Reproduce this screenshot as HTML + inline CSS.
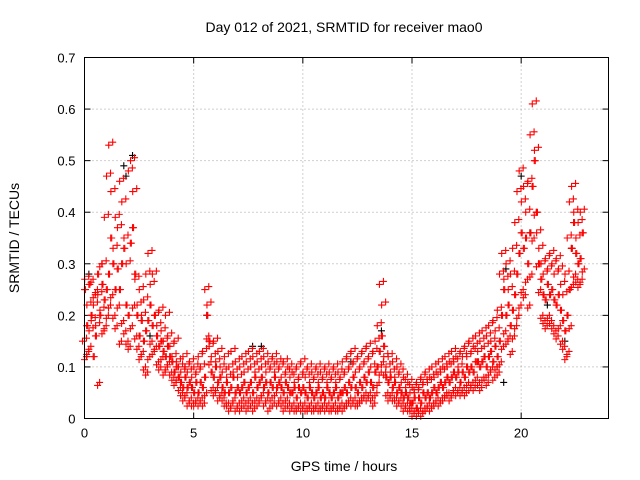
<!DOCTYPE html>
<html><head><meta charset="utf-8"><style>
body{margin:0;background:#fff;}
svg{display:block;font-family:"Liberation Sans",sans-serif;}
</style></head><body>
<svg id="chart" width="640" height="480">
<rect width="640" height="480" fill="#fff"/>
<text x="344" y="32" font-size="14" text-anchor="middle">Day 012 of 2021, SRMTID for receiver mao0</text>
<text x="344" y="471" font-size="14" text-anchor="middle">GPS time / hours</text>
<text transform="translate(19,238) rotate(-90)" font-size="14" text-anchor="middle">SRMTID / TECUs</text>
<g id="grid"></g>
<g id="ticks"></g>
<g id="black-pts"></g>
<g id="red-pts"></g>
<rect x="84.5" y="57.5" width="524" height="361" fill="none" stroke="#000" stroke-width="1"/>
</svg>
<script>
const xTicks=[0,5,10,15,20];
const yTicks=[0,0.1,0.2,0.3,0.4,0.5,0.6,0.7];
const yTickLabels=["0","0.1","0.2","0.3","0.4","0.5","0.6","0.7"];
const redStartHour=0.0;
const redStepHour=0.1;
const redValues=[
[.15,.25,.12],[.27,.18,.13],[.22,.26,.14],[.17,.20,.27],[.19,.12,.24],[.22,.16,.25],[.18,.28,.07],[.24,.20,.30],[.21,.26,.17],[.30,.23,.18],
[.39,.25,.20],[.47,.28,.22],[.53,.35,.24],[.44,.30,.20],[.33,.25,.18],[.39,.29,.22],[.37,.25,.15],[.46,.30,.19],[.42,.33,.17],[.35,.22,.15],
[.30,.20,.14],[.48,.34,.18],[.50,.37,.22],[.44,.28,.16],[.27,.20,.14],[.22,.16,.12],[.25,.19,.13],[.20,.15,.10],[.23,.17,.09],[.28,.19,.12],
[.32,.22,.15],[.26,.18,.13],[.28,.20,.14],[.20,.16,.11],[.18,.14,.10],[.21,.15,.12],[.17,.13,.09],[.15,.12,.10],[.20,.14,.11],[.16,.12,.09],
[.14,.11,.08],[.12,.09,.07],[.15,.10,.08],[.11,.08,.06],[.10,.07,.05],[.09,.06,.04],[.12,.08,.05],[.10,.06,.03],[.09,.07,.04],[.11,.06,.03],
[.08,.05,.03],[.10,.07,.04],[.09,.05,.03],[.12,.07,.04],[.10,.06,.03],[.13,.08,.05],[.25,.20,.16],[.22,.15,.11],[.14,.09,.06],[.12,.08,.05],
[.15,.10,.06],[.11,.07,.04],[.13,.08,.05],[.10,.06,.04],[.09,.05,.03],[.12,.07,.03],[.08,.05,.02],[.10,.06,.03],[.13,.08,.04],[.09,.05,.02],
[.11,.06,.03],[.08,.05,.02],[.10,.06,.04],[.12,.07,.03],[.09,.05,.02],[.11,.06,.04],[.13,.07,.03],[.10,.05,.02],[.12,.08,.04],[.09,.06,.03],
[.11,.07,.04],[.13,.08,.05],[.10,.06,.03],[.12,.07,.04],[.09,.05,.02],[.11,.07,.04],[.10,.06,.03],[.12,.08,.05],[.09,.06,.03],[.11,.07,.04],
[.10,.06,.03],[.08,.05,.02],[.11,.07,.04],[.09,.06,.03],[.10,.05,.02],[.08,.05,.03],[.09,.06,.02],[.07,.04,.02],[.10,.06,.03],[.08,.05,.02],
[.11,.06,.03],[.09,.05,.02],[.08,.04,.02],[.10,.06,.03],[.07,.05,.02],[.09,.04,.02],[.08,.05,.03],[.10,.06,.02],[.07,.04,.02],[.09,.05,.03],
[.08,.04,.02],[.10,.06,.03],[.07,.05,.02],[.09,.04,.02],[.08,.05,.03],[.10,.06,.02],[.07,.04,.02],[.09,.05,.03],[.08,.05,.02],[.11,.06,.03],
[.09,.05,.03],[.12,.07,.04],[.10,.06,.03],[.13,.08,.04],[.11,.06,.03],[.09,.05,.03],[.12,.07,.04],[.10,.06,.04],[.13,.08,.05],[.11,.07,.04],
[.14,.09,.05],[.12,.07,.04],[.10,.06,.03],[.13,.09,.05],[.15,.10,.07],[.18,.13,.09],[.26,.16,.11],[.22,.14,.09],[.12,.08,.05],[.10,.07,.04],
[.12,.08,.05],[.09,.06,.04],[.11,.07,.04],[.08,.05,.03],[.10,.06,.04],[.09,.05,.03],[.07,.04,.02],[.08,.05,.03],[.06,.04,.02],[.07,.03,.02],
[.05,.03,.01],[.06,.04,.02],[.05,.02,.01],[.07,.04,.02],[.06,.03,.01],[.08,.05,.02],[.07,.04,.02],[.09,.05,.03],[.07,.04,.02],[.08,.05,.03],
[.10,.06,.03],[.08,.05,.04],[.09,.06,.03],[.11,.07,.04],[.09,.06,.04],[.10,.07,.05],[.12,.08,.05],[.10,.07,.04],[.11,.08,.05],[.13,.09,.06],
[.11,.08,.05],[.12,.09,.06],[.10,.07,.05],[.13,.09,.06],[.12,.08,.05],[.14,.10,.07],[.12,.09,.06],[.15,.10,.07],[.13,.09,.06],[.14,.11,.08],
[.16,.11,.07],[.13,.10,.06],[.15,.11,.08],[.17,.12,.08],[.14,.10,.07],[.16,.12,.09],[.18,.13,.10],[.15,.11,.08],[.19,.14,.10],[.17,.12,.09],
[.21,.15,.11],[.28,.20,.14],[.32,.25,.17],[.27,.20,.15],[.30,.22,.16],[.25,.18,.13],[.28,.21,.16],[.33,.24,.18],[.38,.28,.20],[.44,.32,.22],
[.48,.36,.25],[.42,.33,.24],[.45,.35,.27],[.40,.30,.22],[.46,.36,.28],[.55,.45,.35],[.61,.50,.40],[.52,.40,.30],[.36,.30,.25],[.33,.27,.20],
[.30,.24,.19],[.28,.23,.18],[.31,.26,.20],[.29,.24,.19],[.32,.25,.18],[.30,.23,.17],[.28,.22,.16],[.31,.24,.18],[.29,.21,.15],[.26,.19,.14],
[.24,.17,.12],[.28,.20,.13],[.35,.25,.18],[.42,.33,.26],[.45,.38,.28],[.40,.32,.27],[.35,.30,.26],[.38,.31,.27],[.40,.36,.29]
];
const blackHours=[0.1,0.2,1.8,1.9,2.2,3.0,4.6,5.6,7.7,8.1,12.2,13.6,18.9,19.2,19.3,20.0,20.4,21.2,22.0,22.3];
const blackValues=[.12,.28,.49,.47,.51,.16,.10,.20,.14,.14,.11,.17,.10,.07,.29,.47,.36,.22,.15,.33];

const X0=84.5,X1=608.5,Y0=418.5,Y1=57.5,XMAX=24,YMAX=0.7;
function sx(h){return X0+(h/XMAX)*(X1-X0);}
function sy(v){return Y0-(v/YMAX)*(Y0-Y1);}
const NS="http://www.w3.org/2000/svg";
function mk(tag,attrs,parent){const e=document.createElementNS(NS,tag);for(const k in attrs)e.setAttribute(k,attrs[k]);parent.appendChild(e);return e;}
const grid=document.getElementById('grid'),ticks=document.getElementById('ticks');
xTicks.forEach(t=>{
  const x=sx(t);
  if(t>0){const g=mk('line',{x1:x,x2:x,y1:Y1,y2:Y0,stroke:'#a0a0a0','stroke-dasharray':'1,3'},grid);
  
  }
  const l=mk('text',{x:x,y:Y0+19,'font-size':13,'text-anchor':'middle'},ticks);
  l.textContent=String(t);
  
  
  mk('line',{x1:x,x2:x,y1:Y0,y2:Y0-6,stroke:'#000'},ticks);
  mk('line',{x1:x,x2:x,y1:Y1,y2:Y1+6,stroke:'#000'},ticks);
});
yTicks.forEach((t,i)=>{
  const y=sy(t);
  if(i>0&&i<yTicks.length-1){const g=mk('line',{x1:X0,x2:X1,y1:y,y2:y,stroke:'#a0a0a0','stroke-dasharray':'1,3'},grid);
  
  }
  const l=mk('text',{x:X0-9,y:y+5,'font-size':13,'text-anchor':'end'},ticks);
  l.textContent=yTickLabels[i];
  
  
  mk('line',{x1:X0,x2:X0+6,y1:y,y2:y,stroke:'#000'},ticks);
  mk('line',{x1:X1,x2:X1-6,y1:y,y2:y,stroke:'#000'},ticks);
});
function plus(x,y,color,parent,name){
  const p=mk('path',{d:`M${x-3.5},${y}H${x+3.5}M${x},${y-3.5}V${y+3.5}`,stroke:color,'stroke-width':1.1,fill:'none'},parent);
  
  
}
const bg=document.getElementById('black-pts');
blackHours.forEach((h,i)=>plus(sx(h),sy(blackValues[i]),'#000',bg,'black-point'));
const rg=document.getElementById('red-pts');
redValues.forEach((row,i)=>{
  const h=redStartHour+i*redStepHour;
  row.forEach((v,j)=>{
    plus(sx(h)+(j-1)*2,sy(v),'#ff0000',rg,'red-point');
    plus(sx(h)+1+(1-j),sy(v)+(j-1)*3,'#ff0000',rg,'red-point');
  });
});
</script>
</body></html>
